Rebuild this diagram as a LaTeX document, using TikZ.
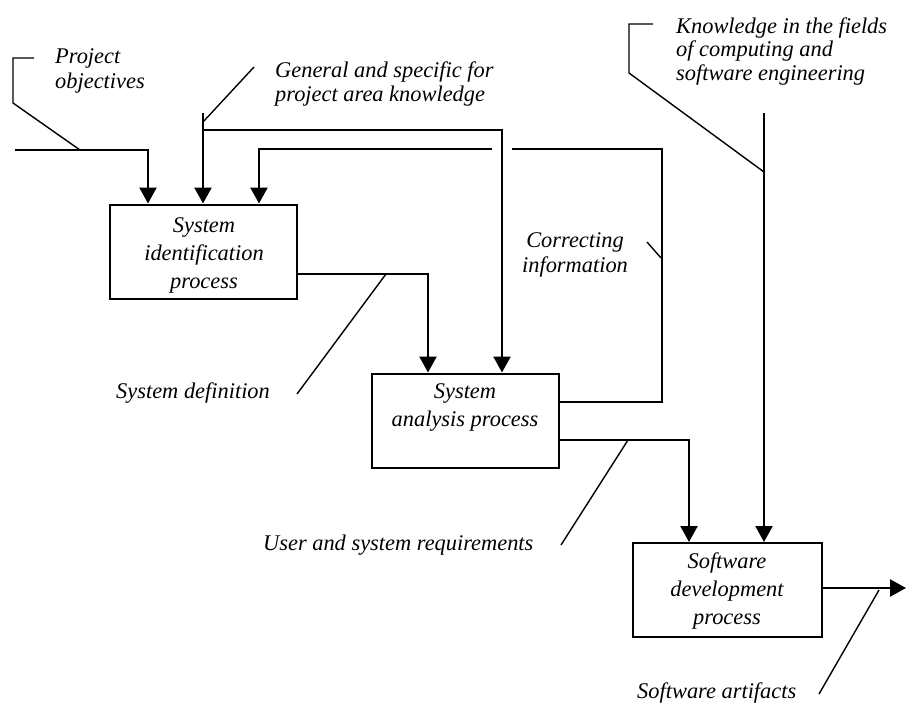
\documentclass[tikz,border=0pt]{standalone}
\usepackage{fontspec}
\setmainfont{Liberation Serif}
\usetikzlibrary{arrows.meta}
% stacked lines whose baseline is the first line
\newcommand{\txtstack}[2]{\begin{tabular}[t]{@{}#1@{}}#2\end{tabular}}
\begin{document}
\begin{tikzpicture}[x=1pt,y=-1pt,
  flow/.style={line width=2.3pt},
  flowarrow/.style={flow,-{Triangle[width=17pt,length=16pt]}},
  leader/.style={line width=1.4pt},
  procbox/.style={draw,line width=2pt,minimum width=187pt,minimum height=94pt,inner sep=0pt},
  boxtext/.style={font=\itshape\fontsize{22.4}{28}\selectfont,inner sep=0pt,anchor=base},
  note/.style={font=\itshape\fontsize{22.4}{25}\selectfont,inner sep=0pt,anchor=base west}]
\useasboundingbox (0,0) rectangle (907,704);

% process boxes
\node[procbox] (b1) at (203.5,251.5) {};
\node[procbox] (b2) at (465.5,420.5) {};
\node[procbox,minimum width=189pt] (b3) at (727.5,590) {};

\node[boxtext] (t1) at (204,232) {\txtstack{c}{System\\identification\\process}};
\node[boxtext] (t2) at (465,398) {\txtstack{c}{System\\analysis process}};
\node[boxtext] (t3) at (727,568) {\txtstack{c}{Software\\development\\process}};

% project objectives input
\coordinate (poStart) at (15,150);
\coordinate (poBend) at (148,150);
\draw[flowarrow] (poStart) -- (poBend) -- (poBend |- b1.north);

% general and specific knowledge, feeding both boxes
\coordinate (gkTop) at (203,113);
\coordinate (gkFork) at (203,130);
\coordinate (gkBend) at (502,130);
\draw[flowarrow] (gkTop) -- (gkTop |- b1.north);
\draw[flowarrow] (gkFork) -- (gkBend) -- (gkBend |- b2.north);

% correcting information feedback loop (broken where it crosses)
\coordinate (ciRight) at (662,402);
\coordinate (ciTop) at (662,149);
\coordinate (ciGapR) at (512,149);
\coordinate (ciGapL) at (492,149);
\coordinate (ciBend) at (259,149);
\draw[flow] (b2.east |- ciRight) -- (ciRight) -- (ciTop) -- (ciGapR);
\draw[flowarrow] (ciGapL) -- (ciBend) -- (ciBend |- b1.north);

% system definition
\coordinate (sdBend) at (428,274);
\draw[flowarrow] (b1.east |- sdBend) -- (sdBend) -- (sdBend |- b2.north);

% user and system requirements
\coordinate (urBend) at (689,440);
\draw[flowarrow] (b2.east |- urBend) -- (urBend) -- (urBend |- b3.north);

% computing knowledge
\coordinate (kfTop) at (764,113);
\draw[flowarrow] (kfTop) -- (kfTop |- b3.north);

% software artifacts output
\coordinate (saEnd) at (906,588);
\draw[flowarrow] (b3.east |- saEnd) -- (saEnd);

% leader lines from labels to flows
\coordinate (poFoot) at (80,150);
\coordinate (poKnee) at (13,103);
\coordinate (poCorner) at (13,58);
\coordinate (poTip) at (34,58);
\draw[leader] (poFoot) -- (poKnee) -- (poCorner) -- (poTip);

\coordinate (gkFoot) at (203,122);
\coordinate (gkTip) at (254,67);
\draw[leader] (gkFoot) -- (gkTip);

\coordinate (kfFoot) at (764,172);
\coordinate (kfKnee) at (629,73);
\coordinate (kfCorner) at (629,24);
\coordinate (kfTip) at (653,24);
\draw[leader] (kfFoot) -- (kfKnee) -- (kfCorner) -- (kfTip);

\coordinate (ciFoot) at (661,258);
\coordinate (ciTip) at (647,242);
\draw[leader] (ciFoot) -- (ciTip);

\coordinate (sdFoot) at (386,274);
\coordinate (sdTip) at (297,394);
\draw[leader] (sdFoot) -- (sdTip);

\coordinate (urFoot) at (628,440);
\coordinate (urTip) at (561,545);
\draw[leader] (urFoot) -- (urTip);

\coordinate (saFoot) at (879,590);
\coordinate (saTip) at (819,694);
\draw[leader] (saFoot) -- (saTip);

% labels
\node[note] (lpo) at (55,63) {\txtstack{l}{Project\\objectives}};
\node[note,font=\itshape\fontsize{22.4}{24}\selectfont] (lgk) at (275,77) {\txtstack{l}{General and specific for\\project area knowledge}};
\node[note,font=\itshape\fontsize{22.4}{23.5}\selectfont] (lkf) at (676,33) {\txtstack{l}{Knowledge in the fields\\of computing and\\software engineering}};
\node[note,anchor=base] (lci) at (575,247) {\txtstack{c}{Correcting\\information}};
\node[note] (lsd) at (116,398) {System definition};
\node[note] (lur) at (263,550) {User and system requirements};
\node[note] (lsa) at (637,698) {Software artifacts};
\end{tikzpicture}
\end{document}
